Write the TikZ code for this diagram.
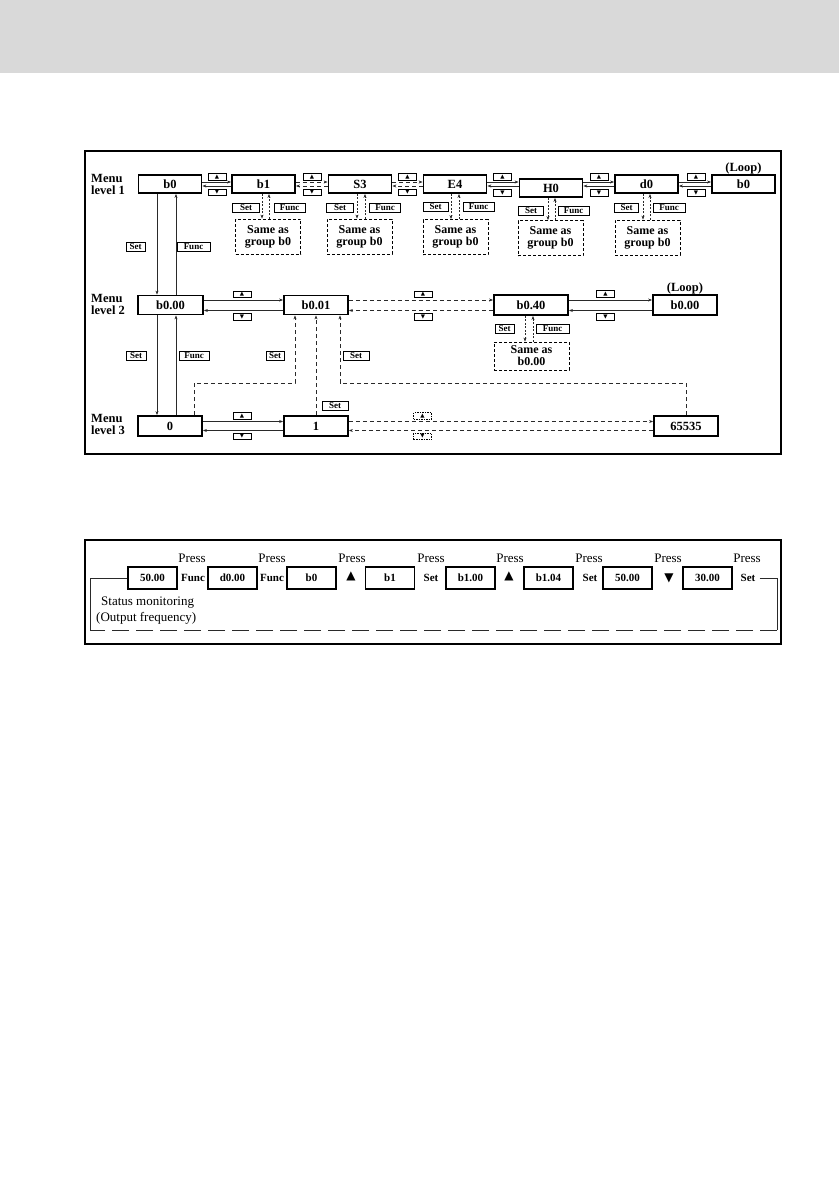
\documentclass[tikz,border=0pt]{standalone}
\usepackage{fontspec}
\setmainfont{Liberation Serif}
\newfontfamily\symfont{DejaVu Sans}
\usetikzlibrary{arrows.meta,calc}
\definecolor{headgrey}{HTML}{D9D9D9}
\definecolor{lnk}{HTML}{2A2A2A}
\begin{document}
\begin{tikzpicture}[x=1pt,y=-1pt,
 box/.style={draw,line width=1.8pt,inner sep=0pt,minimum width=63pt,minimum height=18pt,font=\bfseries\fontsize{12.5}{13}\selectfont},
 pbox/.style={draw,line width=1.4pt,inner sep=0pt,minimum width=49pt,minimum height=22pt,font=\bfseries\fontsize{11}{12}\selectfont},
 key/.style={draw,line width=1pt,inner xsep=2.5pt,inner ysep=0pt,minimum height=9pt,font=\bfseries\fontsize{9}{9}\selectfont},
 btn/.style={draw,line width=1pt,inner sep=0pt,minimum width=18pt,minimum height=6.5pt,font=\symfont\fontsize{5.5}{5.5}\selectfont},
 dbtn/.style={btn,dash pattern=on 1.5pt off 1pt},
 same/.style={draw,line width=0.8pt,dash pattern=on 3pt off 2pt,inner sep=0pt,align=center,font=\bfseries\fontsize{12}{12}\selectfont,minimum height=35pt,minimum width=65pt},
 lvl/.style={align=left,anchor=west,inner sep=0pt,font=\bfseries\fontsize{12.5}{12}\selectfont},
 looplbl/.style={inner sep=0pt,font=\bfseries\fontsize{12.5}{13}\selectfont},
 conn/.style={line width=0.7pt,draw=lnk,-{Stealth[length=4pt,width=3pt]}},
 dconn/.style={conn,dash pattern=on 4pt off 3pt},
 sconn/.style={conn,dash pattern=on 2pt off 1.5pt},
 press/.style={inner sep=0pt,font=\fontsize{13}{13}\selectfont},
 pkey/.style={inner sep=0pt,font=\bfseries\fontsize{11}{11}\selectfont},
 psym/.style={inner sep=0pt,font=\symfont\fontsize{12}{12}\selectfont},
 status/.style={inner sep=0pt,anchor=west,font=\fontsize{13}{13}\selectfont},
 loopline/.style={line width=0.8pt,draw=lnk}
]
\useasboundingbox (0,0) rectangle (839,1191);
\fill[headgrey] (0,0) rectangle (839,73);

% ---------------- panel 1 ----------------
\draw[line width=2.2pt] (85,151) rectangle (781,454);

\node[lvl] (lv1) at (91,184) {Menu\\level 1};
\node[lvl] (lv2) at (91,304) {Menu\\level 2};
\node[lvl] (lv3) at (91,424) {Menu\\level 3};

% level 1
\node[box] (n1b0) at (170,184) {b0};
\node[box] (n1b1) at (263.5,184) {b1};
\node[box] (n1S3) at (360,184) {S3};
\node[box] (n1E4) at (455,184) {E4};
\node[box] (n1H0) at (551,188) {H0};
\node[box] (n1d0) at (646.5,184) {d0};
\node[box] (n1L) at (743.5,184) {b0};
\node[looplbl] (loop1) at (743.5,168) {(Loop)};

% level 1 buttons
\node[btn] (u1) at (217,177) {▲};   \node[btn] (d1) at (217,192.5) {▼};
\node[btn] (u2) at (312,177) {▲};   \node[btn] (d2) at (312,192.5) {▼};
\node[btn] (u3) at (407.5,177) {▲}; \node[btn] (d3) at (407.5,192.5) {▼};
\node[btn] (u4) at (502.5,177) {▲}; \node[btn] (d4) at (502.5,193) {▼};
\node[btn] (u5) at (599,177) {▲};   \node[btn] (d5) at (599,193) {▼};
\node[btn] (u6) at (696,177) {▲};   \node[btn] (d6) at (696,193) {▼};

% level 1 horizontal connectors
\draw[conn] ([yshift=2pt]n1b0.east) -- ([yshift=2pt]n1b1.west);
\draw[conn] ([yshift=-2pt]n1b1.west) -- ([yshift=-2pt]n1b0.east);
\draw[dconn] ([yshift=2pt]n1b1.east) -- ([yshift=2pt]n1S3.west);
\draw[dconn] ([yshift=-2pt]n1S3.west) -- ([yshift=-2pt]n1b1.east);
\draw[dconn] ([yshift=2pt]n1S3.east) -- ([yshift=2pt]n1E4.west);
\draw[dconn] ([yshift=-2pt]n1E4.west) -- ([yshift=-2pt]n1S3.east);
\draw[conn] ([yshift=2pt]n1E4.east) -- ([yshift=6pt]n1H0.west);
\draw[conn] ([yshift=2pt]n1H0.west) -- ([yshift=-2pt]n1E4.east);
\draw[conn] ([yshift=6pt]n1H0.east) -- ([yshift=2pt]n1d0.west);
\draw[conn] ([yshift=-2pt]n1d0.west) -- ([yshift=2pt]n1H0.east);
\draw[conn] ([yshift=2pt]n1d0.east) -- ([yshift=2pt]n1L.west);
\draw[conn] ([yshift=-2pt]n1L.west) -- ([yshift=-2pt]n1d0.east);

% level 1 sub-groups
\node[key,minimum width=27pt] (s1) at (246,207.5) {Set};
\node[key,minimum width=31pt] (f1) at (289.5,207.5) {Func};
\node[same] (g1) at (268,236.5) {Same as\\group b0};
\node[key,minimum width=27pt] (s2) at (340,207.5) {Set};
\node[key,minimum width=31pt] (f2) at (385,207.5) {Func};
\node[same] (g2) at (359.5,236.5) {Same as\\group b0};
\node[key,minimum width=25pt] (s3) at (435.5,207) {Set};
\node[key,minimum width=31pt] (f3) at (478.5,207) {Func};
\node[same] (g3) at (455.5,237) {Same as\\group b0};
\node[key,minimum width=25pt] (s4) at (531,211) {Set};
\node[key,minimum width=31pt] (f4) at (573.5,211) {Func};
\node[same] (g4) at (550.5,238) {Same as\\group b0};
\node[key,minimum width=24pt] (s5) at (626.5,208) {Set};
\node[key,minimum width=32pt] (f5) at (669,208) {Func};
\node[same] (g5) at (647.5,237.5) {Same as\\group b0};

\draw[sconn] ([xshift=-1.5pt]n1b1.south) -- ([xshift=-1.5pt]n1b1.south |- g1.north);
\draw[sconn] ([xshift=5.5pt]n1b1.south |- g1.north) -- ([xshift=5.5pt]n1b1.south);
\draw[sconn] ([xshift=-3pt]n1S3.south) -- ([xshift=-3pt]n1S3.south |- g2.north);
\draw[sconn] ([xshift=5pt]n1S3.south |- g2.north) -- ([xshift=5pt]n1S3.south);
\draw[sconn] ([xshift=-4pt]n1E4.south) -- ([xshift=-4pt]n1E4.south |- g3.north);
\draw[sconn] ([xshift=4pt]n1E4.south |- g3.north) -- ([xshift=4pt]n1E4.south);
\draw[sconn] ([xshift=-3pt]n1H0.south) -- ([xshift=-3pt]n1H0.south |- g4.north);
\draw[sconn] ([xshift=4pt]n1H0.south |- g4.north) -- ([xshift=4pt]n1H0.south);
\draw[sconn] ([xshift=-3.5pt]n1d0.south) -- ([xshift=-3.5pt]n1d0.south |- g5.north);
\draw[sconn] ([xshift=3.5pt]n1d0.south |- g5.north) -- ([xshift=3.5pt]n1d0.south);

% level 2
\node[box,minimum width=65pt,minimum height=19pt] (n2a) at (170.5,305) {b0.00};
\node[box,minimum width=64pt,minimum height=19pt] (n2b) at (316,305) {b0.01};
\node[box,minimum width=74pt,minimum height=20pt] (n2c) at (531,305) {b0.40};
\node[box,minimum width=64pt,minimum height=20pt] (n2L) at (685,305) {b0.00};
\node[looplbl] (loop2) at (685,288.5) {(Loop)};

\node[btn] (u7) at (242,294.5) {▲};  \node[btn] (d7) at (242,317) {▼};
\node[btn] (u8) at (423,294.5) {▲};  \node[btn] (d8) at (423,317) {▼};
\node[btn] (u9) at (605.5,294) {▲};  \node[btn] (d9) at (605.5,317) {▼};

\draw[conn] ([yshift=5pt]n2a.east) -- ([yshift=5pt]n2b.west);
\draw[conn] ([yshift=-5.5pt]n2b.west) -- ([yshift=-5.5pt]n2a.east);
\draw[dconn] ([yshift=5pt]n2b.east) -- ([yshift=5pt]n2c.west);
\draw[dconn] ([yshift=-5.5pt]n2c.west) -- ([yshift=-5.5pt]n2b.east);
\draw[conn] ([yshift=5pt]n2c.east) -- ([yshift=5pt]n2L.west);
\draw[conn] ([yshift=-5.5pt]n2L.west) -- ([yshift=-5.5pt]n2c.east);

% level 1 <-> level 2
\node[key,minimum width=19pt] (s6) at (135.5,246.5) {Set};
\node[key,minimum width=33pt] (f6) at (193.5,247) {Func};
\draw[conn] ([xshift=-13pt]n1b0.south) -- ([xshift=-13pt]n1b0.south |- n2a.north);
\draw[conn] ([xshift=6pt]n1b0.south |- n2a.north) -- ([xshift=6pt]n1b0.south);

% b0.40 subgroup
\node[key,minimum width=19pt] (s7) at (504.5,329) {Set};
\node[key,minimum width=33pt] (f7) at (552.5,329) {Func};
\node[same,minimum width=75pt,minimum height=28pt] (g6) at (531.5,356) {Same as\\b0.00};
\draw[sconn] ([xshift=-6pt]n2c.south) -- ([xshift=-6pt]n2c.south |- g6.north);
\draw[sconn] ([xshift=2pt]n2c.south |- g6.north) -- ([xshift=2pt]n2c.south);

% level 3
\node[box,minimum width=64pt,minimum height=20pt] (n3a) at (170,426) {0};
\node[box,minimum width=64pt,minimum height=20pt] (n3b) at (316,426) {1};
\node[box,minimum width=64pt,minimum height=20pt] (n3c) at (686,426) {65535};

\node[btn] (u10) at (242,416) {▲};  \node[btn] (d10) at (242,436.5) {▼};
\node[dbtn] (u11) at (422.5,416) {▲}; \node[dbtn] (d11) at (422.5,436.5) {▼};

\draw[conn] ([yshift=4.5pt]n3a.east) -- ([yshift=4.5pt]n3b.west);
\draw[conn] ([yshift=-4.5pt]n3b.west) -- ([yshift=-4.5pt]n3a.east);
\draw[dconn] ([yshift=4.5pt]n3b.east) -- ([yshift=4.5pt]n3c.west);
\draw[dconn] ([yshift=-4.5pt]n3c.west) -- ([yshift=-4.5pt]n3b.east);

% level 2 <-> level 3
\node[key,minimum width=20pt] (s8) at (136,355.5) {Set};
\node[key,minimum width=30pt] (f8) at (194,355.5) {Func};
\draw[conn] ([xshift=-13pt]n3a.north |- n2a.south) -- ([xshift=-13pt]n3a.north);
\draw[conn] ([xshift=6pt]n3a.north) -- ([xshift=6pt]n3a.north |- n2a.south);

\coordinate (k1) at (295,383);
\coordinate (k2) at (340,383);
\node[key,minimum width=18pt] (s9) at (275,355.5) {Set};
\node[key,minimum width=26pt] (s10) at (356,355.5) {Set};
\node[key,minimum width=26pt] (s11) at (335,406) {Set};
\draw[dconn] ([xshift=24pt]n3a.north) |- (k1) -- (k1 |- n2b.south);
\draw[dconn] (n3b.north) -- (n2b.south);
\draw[dconn] (n3c.north) |- (k2) -- (k2 |- n2b.south);

% ---------------- panel 2 ----------------
\draw[line width=2.2pt] (85,540) rectangle (781,644);

\node[pbox] (m1) at (152.5,578) {50.00};
\node[pbox] (m2) at (232.5,578) {d0.00};
\node[pbox] (m3) at (311.5,578) {b0};
\node[pbox] (m4) at (390,578) {b1};
\node[pbox] (m5) at (470.5,578) {b1.00};
\node[pbox] (m6) at (548.5,578) {b1.04};
\node[pbox] (m7) at (627.5,578) {50.00};
\node[pbox] (m8) at (707.5,578) {30.00};

\node[pkey] (q1) at (193,578) {Func};
\node[pkey] (q2) at (272,578) {Func};
\node[psym] (q3) at (351,576) {▲};
\node[pkey] (q4) at (431,578) {Set};
\node[psym] (q5) at (509,576) {▲};
\node[pkey] (q6) at (590,578) {Set};
\node[psym] (q7) at (669,578) {▼};
\node[pkey] (q8) at (748,578) {Set};

\node[press] (p1) at (192,558) {Press};
\node[press] (p2) at (272,558) {Press};
\node[press] (p3) at (352,558) {Press};
\node[press] (p4) at (431,558) {Press};
\node[press] (p5) at (510,558) {Press};
\node[press] (p6) at (589,558) {Press};
\node[press] (p7) at (668,558) {Press};
\node[press] (p8) at (747,558) {Press};

\node[status] (st1) at (101,603) {Status monitoring};
\node[status] (st2) at (96,618.5) {(Output frequency)};

\coordinate (c1) at (777,578);
\coordinate (c2) at (777,630);
\coordinate (c3) at (90,630);
\coordinate (c4) at (90,578);
\draw[loopline] ([xshift=4pt]q8.east) -- (c1) -- (c2);
\draw[loopline,dash pattern=on 17pt off 7pt] (c2) -- (c3);
\draw[loopline] (c3) -- (c4) -- (m1.west);
\end{tikzpicture}
\end{document}
